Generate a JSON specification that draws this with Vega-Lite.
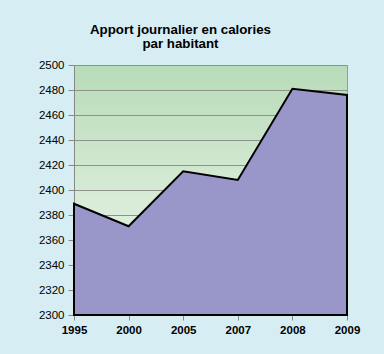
{
  "$schema": "https://vega.github.io/schema/vega-lite/v6.json",
  "autosize": {"type": "none"},
  "padding": {"left": 74, "top": 65, "right": 37, "bottom": 39},
  "width": 273,
  "height": 250,
  "background": "#d6edf3",
  "title": {
    "text": ["Apport journalier en calories", "par habitant"],
    "font": "Liberation Sans",
    "fontSize": 13.3,
    "fontWeight": "bold",
    "color": "#000000",
    "anchor": "middle",
    "dx": -30,
    "lineHeight": 14,
    "offset": 9
  },
  "view": {
    "fill": {"gradient": "linear", "x1": 0, "y1": 0, "x2": 0, "y2": 1,
      "stops": [{"offset": 0, "color": "#b8dbb8"}, {"offset": 1, "color": "#f3f9f2"}]},
    "stroke": "#9a9a9a",
    "strokeWidth": 1
  },
  "data": {
    "values": [
      {"annee": "1995", "calories": 2389},
      {"annee": "2000", "calories": 2371},
      {"annee": "2005", "calories": 2415},
      {"annee": "2007", "calories": 2408},
      {"annee": "2008", "calories": 2481},
      {"annee": "2009", "calories": 2476}
    ]
  },
  "mark": {"type": "area", "fill": "#9996c9", "fillOpacity": 1, "stroke": "#000000", "strokeWidth": 2, "strokeJoin": "miter"},
  "encoding": {
    "x": {
      "field": "annee", "type": "ordinal",
      "scale": {"type": "point", "padding": 0},
      "axis": {
        "title": null, "labelAngle": 0, "labelFont": "Liberation Sans", "labelFontSize": 11.5,
        "labelFontWeight": "bold", "labelColor": "#000000", "tickColor": "#888888", "tickSize": 5,
        "domain": false, "labelPadding": 4
      }
    },
    "y": {
      "field": "calories", "type": "quantitative",
      "scale": {"domain": [2300, 2500], "zero": false, "nice": false},
      "axis": {
        "title": null, "values": [2300, 2320, 2340, 2360, 2380, 2400, 2420, 2440, 2460, 2480, 2500],
        "format": "d",
        "labelFont": "Liberation Sans", "labelFontSize": 11.5, "labelColor": "#000000",
        "tickColor": "#888888", "tickSize": 6, "labelPadding": 4,
        "grid": true, "gridColor": "#8a948a", "gridWidth": 1, "domainColor": "#888888"
      }
    },
    "y2": {"datum": 2300}
  }
}
